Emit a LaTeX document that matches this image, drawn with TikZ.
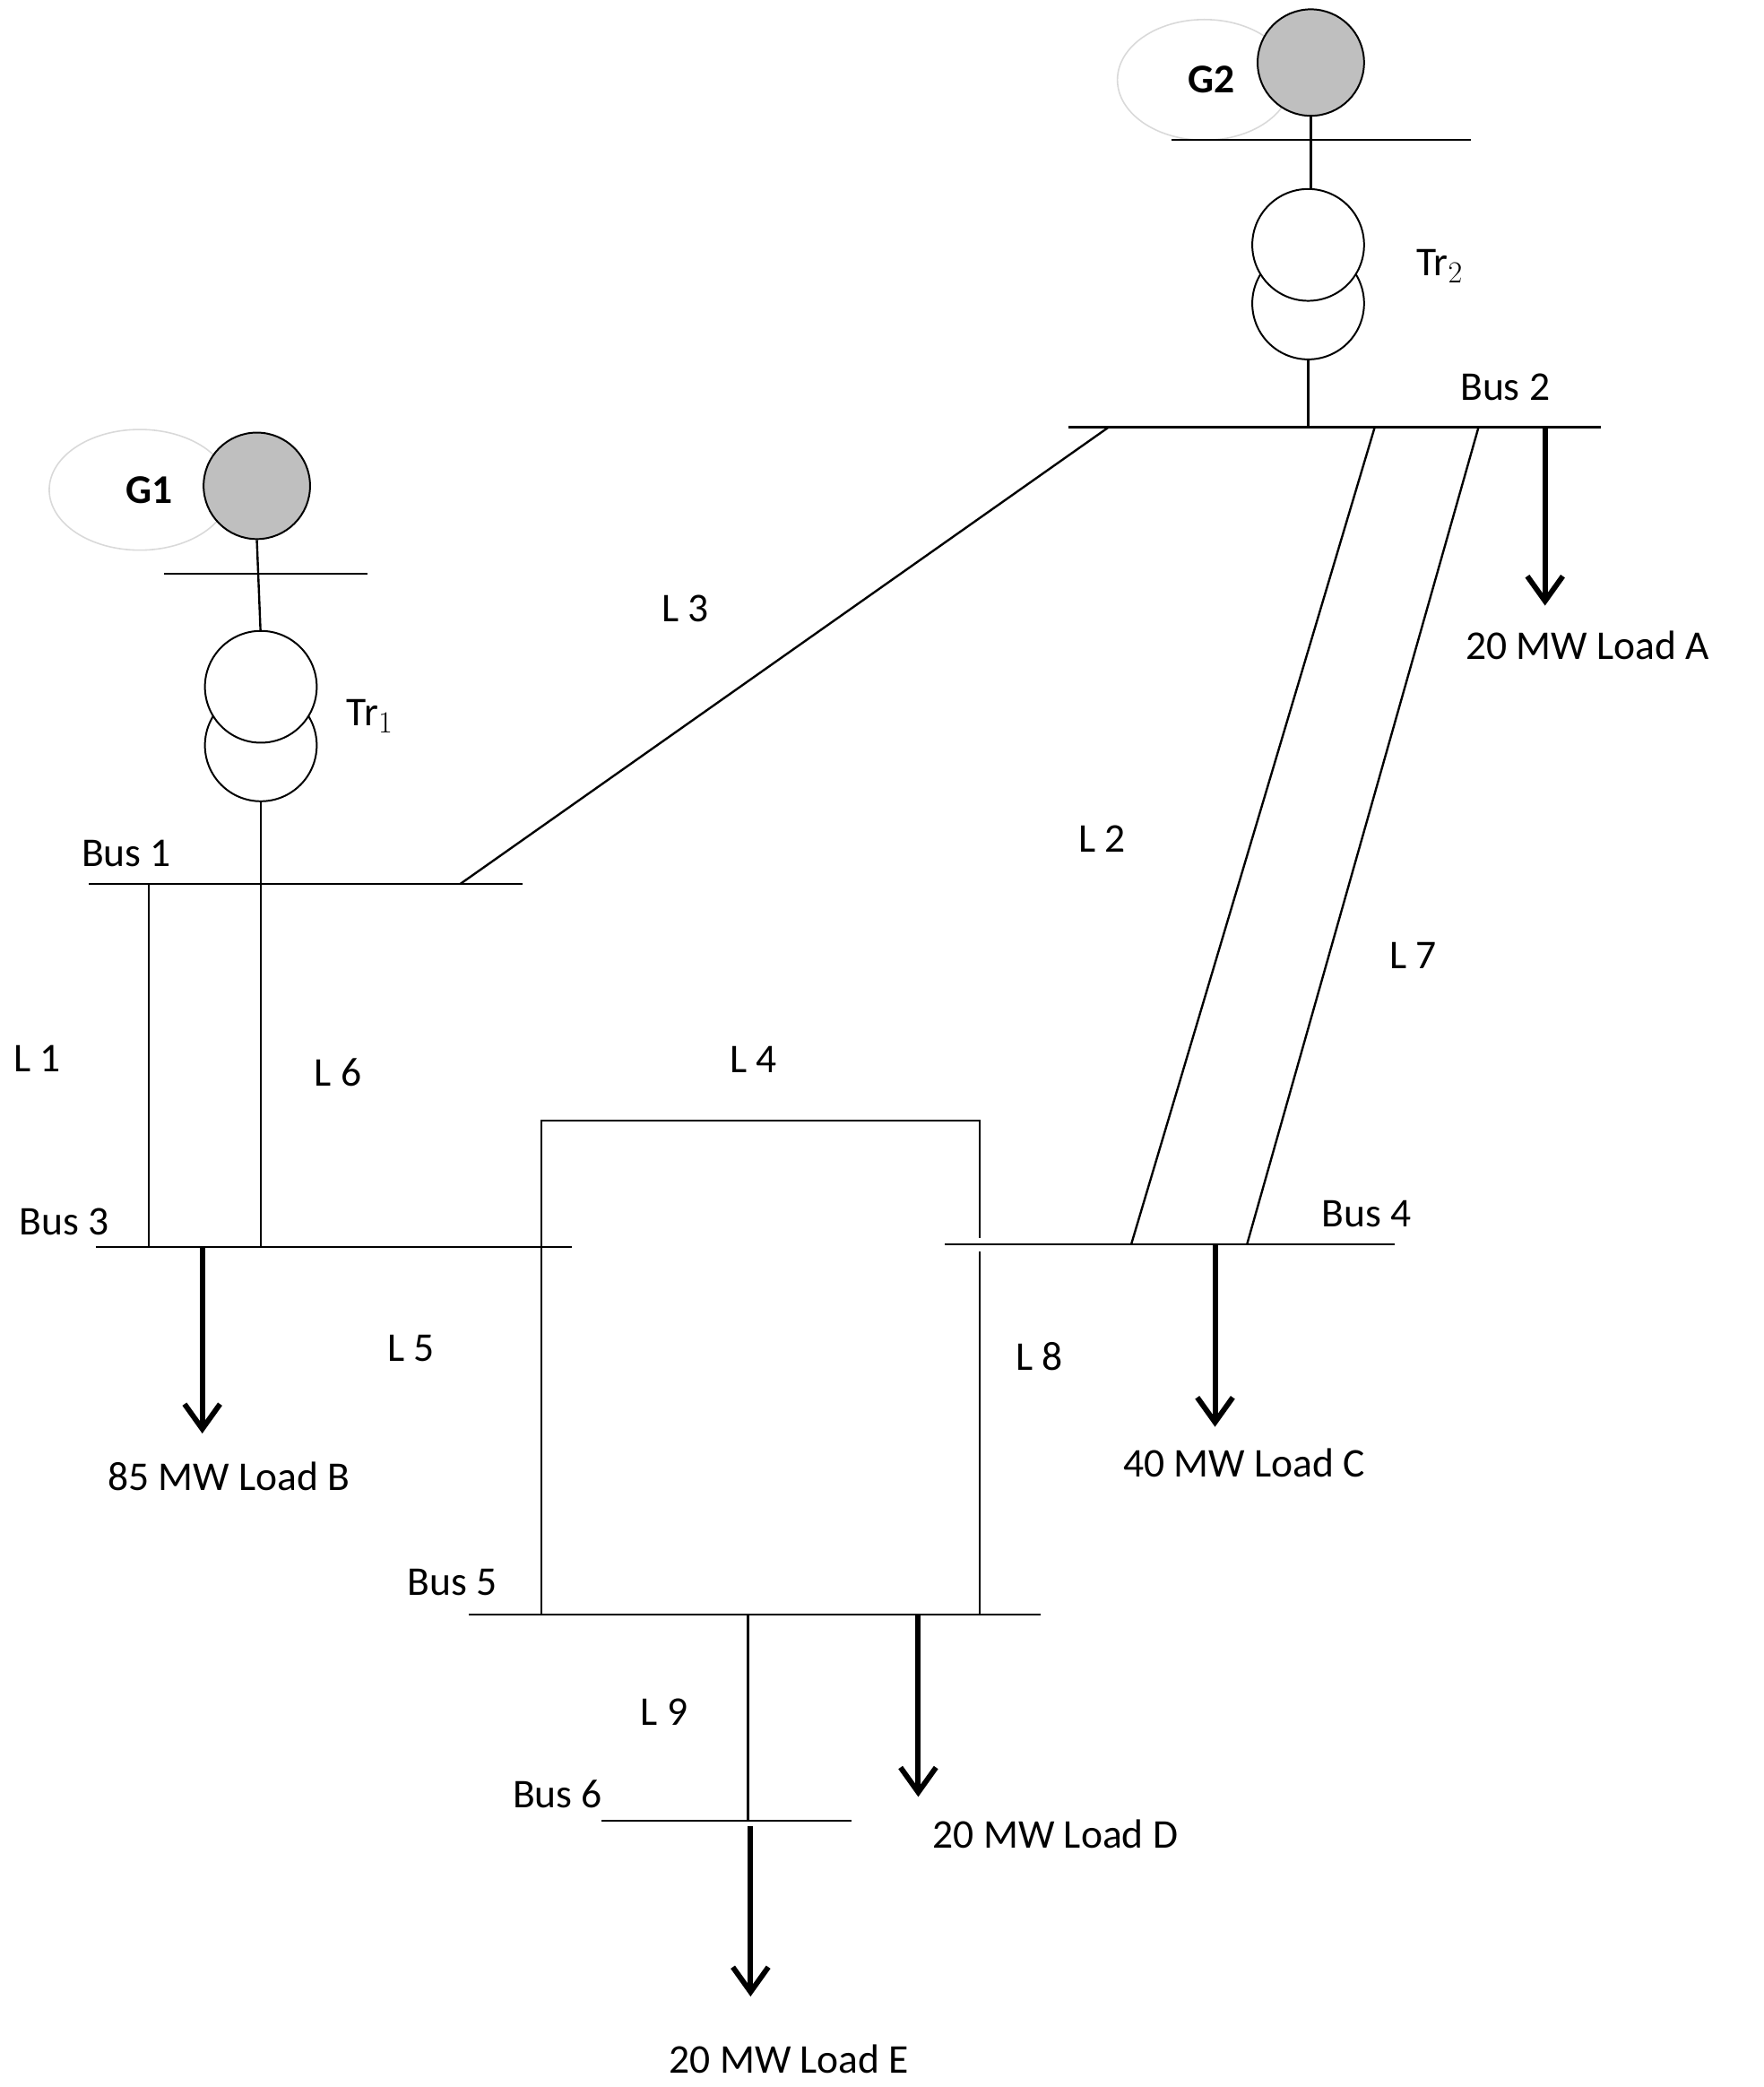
\documentclass[tikz,border=0pt]{standalone}
\usepackage{fontspec}
\setmainfont{Carlito}
\usetikzlibrary{arrows.meta}
\begin{document}
\begin{tikzpicture}[x=0.75pt,y=-0.75pt,
  ln/.style={line width=1.2pt},
  ld/.style={line width=3pt,-{Straight Barb[length=14pt,width=20pt,line width=3pt]}},
  lab/.style={font=\fontsize{23}{25}\selectfont,inner sep=0pt},
  gen/.style={circle,draw,fill=black!25,minimum size=60pt,inner sep=0pt,line width=1pt},
  tr/.style={circle,draw,fill=white,minimum size=63pt,inner sep=0pt,line width=1pt},
  halo/.style={draw=black!15,line width=0.8pt}]
\useasboundingbox (0,0) rectangle (1325,1568);
% G1 side
\draw[halo] (105,368) ellipse [x radius=51pt, y radius=34pt];
\node[gen] (g1) at (193,365) {};
\node[lab,font=\fontsize{23}{25}\selectfont\bfseries] (g1l) at (112,368) {G1};
\coordinate (b0a) at (123,431); \coordinate (b0b) at (276,431);
\draw[ln] (b0a) -- (b0b);
\draw[ln] (g1.south) -- (196,480);
\node[tr] (t1b) at (196,560) {};
\node[tr] (t1a) at (196,516) {};
\node[lab] at (278,538) {Tr$_1$};
% G2 side
\draw[halo] (905,60) ellipse [x radius=49pt, y radius=34pt];
\node[gen] (g2) at (985,47) {};
\node[lab,font=\fontsize{23}{25}\selectfont\bfseries] at (910,60) {G2};
\draw[ln] (880,105) -- (1105,105);
\draw[ln] (g2.south) -- (985,148);
\node[tr] (t2b) at (983,228) {};
\node[tr] (t2a) at (983,184) {};
\node[lab] at (1082,200) {Tr$_2$};
% buses
\coordinate (b1a) at (67,664); \coordinate (b1b) at (393,664);
\coordinate (b2a) at (803,321); \coordinate (b2b) at (1203,321);
\coordinate (b3a) at (72,937); \coordinate (b3b) at (430,937);
\coordinate (b4a) at (710,935); \coordinate (b4b) at (1048,935);
\coordinate (b5a) at (352,1213); \coordinate (b5b) at (782,1213);
\coordinate (b6a) at (452,1368); \coordinate (b6b) at (640,1368);
\foreach \b in {1,...,6} \draw[ln] (b\b a) -- (b\b b);
\node[lab] at (95,641) {Bus 1};
\node[lab] at (1131,291) {Bus 2};
\node[lab] at (48,918) {Bus 3};
\node[lab] at (1027,912) {Bus 4};
\node[lab] at (340,1189) {Bus 5};
\node[lab] at (419,1348) {Bus 6};
% transformer links
\draw[ln] (t1b.south) -- (196,937);
\draw[ln] (t2b.south) -- (983,321);
% lines
\draw[ln] (346,664) -- (833,321);
\draw[ln] (1033,321) -- (850,935);
\draw[ln] (1111,321) -- (937,935);
\draw[ln] (112,664) -- (112,937);
\draw[ln] (407,1213) -- (407,842) -- (736,842) -- (736,930);
\draw[ln] (736,940) -- (736,1213);
\draw[ln] (562,1213) -- (562,1368);
% labels
\node[lab] at (515,457) {L 3};
\node[lab] at (828,630) {L 2};
\node[lab] at (1062,718) {L 7};
\node[lab] at (28,795) {L 1};
\node[lab] at (254,806) {L 6};
\node[lab] at (566,796) {L 4};
\node[lab] at (309,1013) {L 5};
\node[lab] at (781,1019) {L 8};
\node[lab] at (499,1286) {L 9};
% loads
\draw[ld] (1161,321) -- (1161,455);
\node[lab] at (1193,485) {20 MW Load A};
\draw[ld] (152,937) -- (152,1077);
\node[lab] at (172,1109) {85 MW Load B};
\draw[ld] (913,935) -- (913,1072);
\node[lab] at (935,1099) {40 MW Load C};
\draw[ld] (690,1213) -- (690,1350);
\node[lab] at (793,1378) {20 MW Load D};
\draw[ld] (564,1372) -- (564,1500);
\node[lab] at (593,1547) {20 MW Load E};
\end{tikzpicture}
\end{document}
